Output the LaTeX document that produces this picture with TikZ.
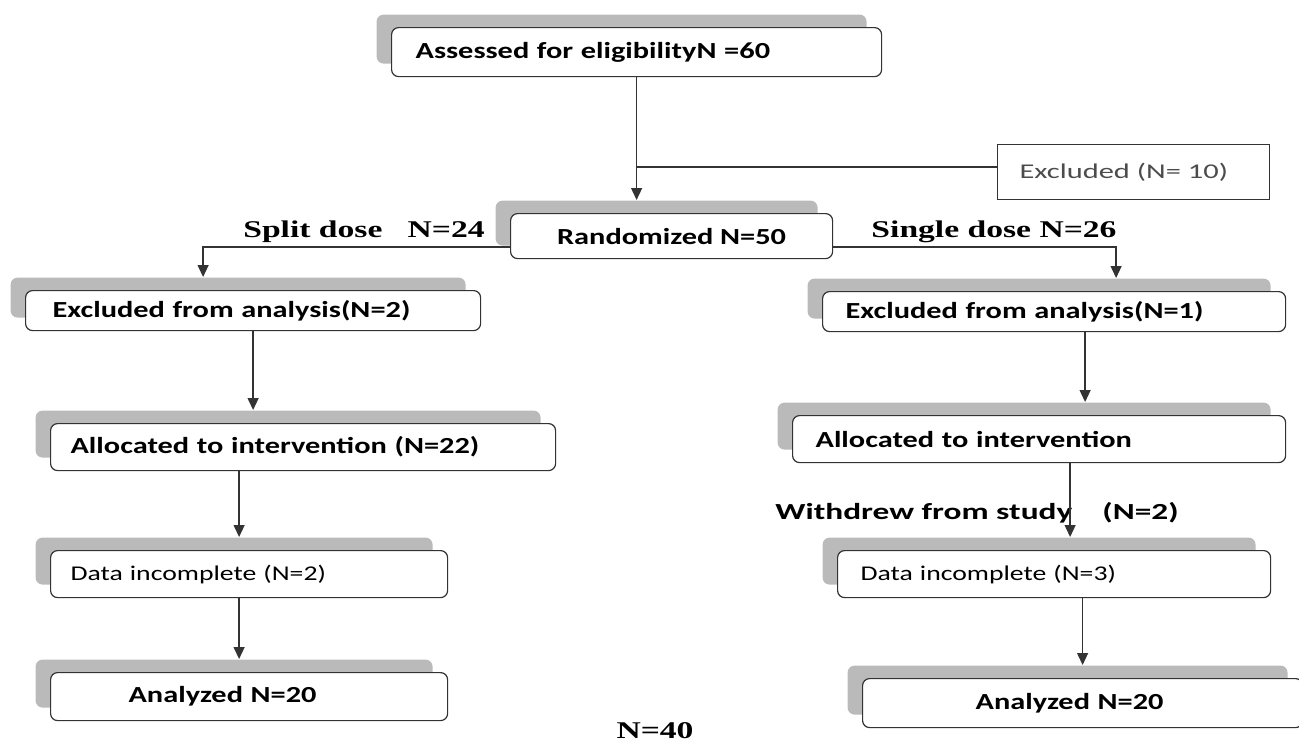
\documentclass[tikz,border=0pt]{standalone}
\usepackage{fontspec}
\setmainfont{Carlito}
\newfontfamily\widecal{Carlito}[FakeStretch=1.32]
\newfontfamily\widercal{Carlito}[FakeStretch=1.45]
\newfontfamily\wideserif{Liberation Serif}[FakeStretch=1.4]
\usetikzlibrary{arrows.meta,positioning,shadows}

\begin{document}
\begin{tikzpicture}[x=1pt, y=-1pt,
  box/.style={draw=black!80, line width=1.2pt, rounded corners=7pt, fill=white,
    anchor=north west, align=left, inner ysep=0pt,
    font=\widecal\bfseries\fontsize{23}{27}\selectfont,
    drop shadow={shadow xshift=-15pt, shadow yshift=13pt, fill=black!27, opacity=1}},
  thinbox/.style={box, font=\widecal\fontsize{21}{25}\selectfont},
  plainbox/.style={draw=black!80, line width=1.2pt, fill=white, anchor=north west,
    align=left, inner ysep=0pt, text=black!70, font=\widercal\fontsize{21}{25}\selectfont},
  lbl/.style={font=\wideserif\bfseries\fontsize{24}{28}\selectfont},
  arr/.style={draw=black!80, line width=1.3pt, -{Triangle[length=12pt,width=11pt]}, shorten >=13pt},
  link/.style={draw=black!80, line width=1.3pt}]
  \useasboundingbox (0,0) rectangle (1299,742);

  %% top of the chart
  \node[box, text width=442pt, minimum height=49pt, inner xsep=24pt] (assess) at (391,27)
    {Assessed for eligibilityN =60};
  \node[plainbox, text width=228pt, minimum height=55pt, inner xsep=22pt] (excl) at (997,144)
    {Excluded (N= 10)};
  \node[box, align=center, minimum width=322pt, minimum height=45pt] (rand) at (510,213)
    {Randomized N=50};

  %% split dose arm
  \node[box, text width=401pt, minimum height=40pt, inner xsep=27pt] (exclL) at (25,290)
    {Excluded from analysis(N=2)};
  \node[box, text width=465pt, minimum height=47pt, inner xsep=20pt] (allocL) at (50,423)
    {Allocated to intervention (N=22)};
  \node[thinbox, text width=357pt, minimum height=47pt, inner xsep=20pt] (dataL) at (50,550)
    {Data incomplete (N=2)};
  \node[box, text width=241pt, minimum height=48pt, inner xsep=78pt] (anaL) at (50,672)
    {Analyzed N=20};

  %% single dose arm
  \node[box, text width=417pt, minimum height=40pt, inner xsep=23pt] (exclR) at (822,291)
    {Excluded from analysis(N=1)};
  \node[box, text width=447pt, minimum height=47pt, inner xsep=23pt] (allocR) at (792,415)
    {Allocated to intervention};
  \node[thinbox, text width=387pt, minimum height=47pt, inner xsep=23pt] (dataR) at (837,550)
    {Data incomplete (N=3)};
  \node[box, text width=214pt, minimum height=49pt, inner xsep=113pt] (anaR) at (862,678)
    {Analyzed N=20};

  %% labels
  \node[lbl] (splitlbl) at (364,232) {Split dose~~~N=24};
  \node[lbl] (singlelbl) at (994,232) {Single dose N=26};
  \node[font=\widercal\bfseries\fontsize{23}{27}\selectfont] (withdrew) at (977,513)
    {Withdrew from study\hspace{30pt}(N=2)};
  \node[lbl] (total) at (655,731) {N=40};

  %% connectors
  \draw[arr] (assess.south) -- (assess.south |- rand.north);
  \draw[link] ([yshift=5pt]excl.west) -- ([yshift=5pt]excl.west -| assess.south);
  \draw[arr] ([yshift=-11pt]rand.west) -| ([xshift=-50pt]exclL.north);
  \draw[arr] ([yshift=-11pt]rand.east) -| ([xshift=62pt]exclR.north);

  \draw[arr] (exclL.south) -- (exclL.south |- allocL.north);
  \draw[arr] ([xshift=-10pt]dataL.north |- allocL.south) -- ([xshift=-10pt]dataL.north);
  \draw[arr] ([xshift=-10pt]anaL.north |- dataL.south) -- ([xshift=-10pt]anaL.north);

  \draw[arr] ([xshift=31pt]exclR.south) -- ([xshift=31pt]exclR.south |- allocR.north);
  \draw[arr] ([xshift=16pt]dataR.north |- allocR.south) -- ([xshift=16pt]dataR.north);
  \draw[arr] (anaR.north |- dataR.south) -- (anaR.north);
\end{tikzpicture}
\end{document}
